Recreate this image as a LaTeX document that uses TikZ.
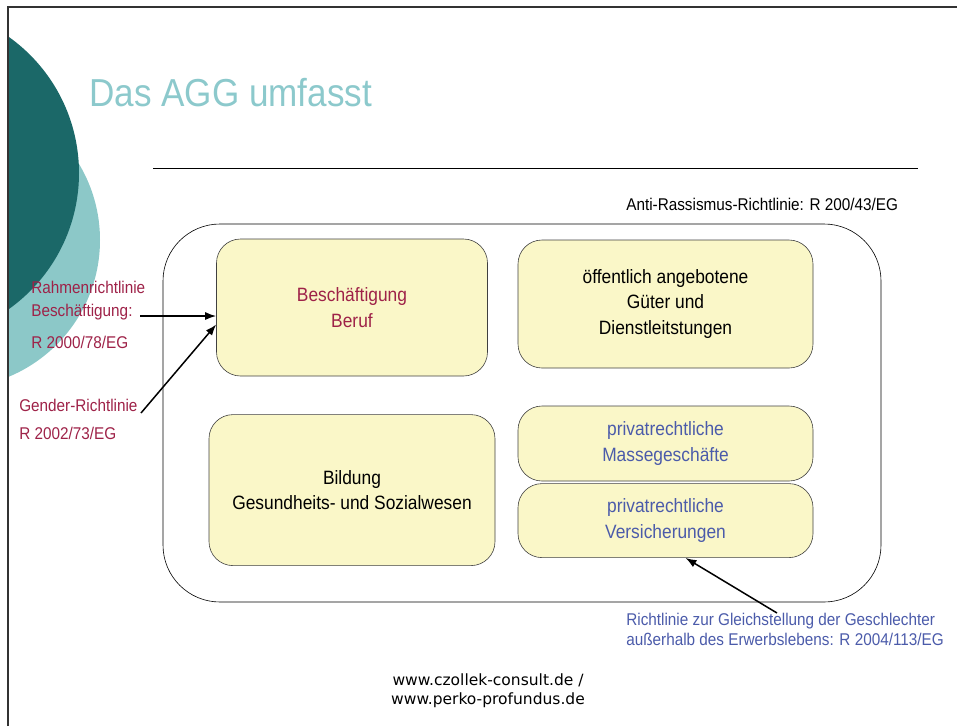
\documentclass[tikz,border=0pt]{standalone}
\usepackage{fontspec}
\setmainfont{Liberation Sans}[FakeStretch=0.9]
\newfontfamily\webfont{DejaVu Sans}
\usetikzlibrary{arrows.meta,positioning}

\definecolor{tealdunkel}{HTML}{1B6868}
\definecolor{tealhell}{HTML}{8CC8C8}
\definecolor{titeltuerkis}{HTML}{8CC9CC}
\definecolor{rahmenrot}{HTML}{9E2248}
\definecolor{richtblau}{HTML}{4B5BAA}
\definecolor{boxgelb}{HTML}{FAF7C8}

\begin{document}
\begin{tikzpicture}[x=1pt,y=-1pt,>={Latex[length=11pt,width=8pt]},semithick]
	\tikzstyle{feld}=[draw=black!75,fill=boxgelb,rounded corners=24pt,align=center,
	                  inner sep=0pt,font=\fontsize{19.3}{25.5}\selectfont]
	\tikzstyle{notiz}=[inner sep=0pt,align=left,font=\fontsize{17}{20}\selectfont]
	\tikzstyle{pfeil}=[->,line width=1.5pt]

	\useasboundingbox (0,0) rectangle (957,726);

	% Kreise links oben
	\begin{scope}
		\clip (8,7) rectangle (957,726);
		\fill[tealhell] (-48,240) circle (148pt);
		\fill[tealdunkel] (-88,173) circle (167pt);
	\end{scope}
	\draw[line width=2pt,black!80] (8,726) -- (8,7) -- (957,7);

	\node[anchor=base west,inner sep=0pt,text=titeltuerkis,font=\fontsize{39}{40}\selectfont]
		(titel) at (89,106) {Das AGG umfasst};
	\draw[line width=1pt] (153,168) -- (918,168);

	\node[draw,rounded corners=57pt,minimum width=718pt,minimum height=378pt] (agg) at (522,413) {};

	\node[feld,minimum width=271pt,minimum height=137pt,text=rahmenrot] (besch) at (352,307.5)
		{Beschäftigung\\Beruf};
	\node[feld,minimum width=295pt,minimum height=128pt] (gueter) at (665.5,304)
		{öffentlich angebotene\\Güter und\\Dienstleitstungen};
	\node[feld,minimum width=286pt,minimum height=151pt] (bildung) [below=38pt of besch]
		{Bildung\\Gesundheits- und Sozialwesen};
	\node[feld,minimum width=295pt,minimum height=75pt,text=richtblau] (masse) at (665.5,443.5)
		{privatrechtliche\\Massegeschäfte};
	\node[feld,minimum width=295pt,minimum height=74pt,text=richtblau] (vers) [below=2pt of masse]
		{privatrechtliche\\Versicherungen};

	\node[notiz,anchor=base west] (antiras) at (626,210) {Anti-Rassismus-Richtlinie: R 200/43/EG};
	\node[notiz,anchor=north west,text=rahmenrot,font=\fontsize{17}{23}\selectfont] (rahmen) at (31,280.5)
		{Rahmenrichtlinie\\Beschäftigung:\\[9pt]R 2000/78/EG};
	\node[notiz,anchor=north west,text=rahmenrot,font=\fontsize{17}{28}\selectfont] (gender) at (19,398.5)
		{Gender-Richtlinie\\R 2002/73/EG};
	\node[notiz,anchor=north west,text=richtblau] (gleich) at (626,612.5)
		{Richtlinie zur Gleichstellung der Geschlechter\\außerhalb des Erwerbslebens: R 2004/113/EG};

	\coordinate (rrEnde) at (140,316);
	\coordinate (grEnde) at (141,413);
	\coordinate (glEnde) at (777,613);
	\draw[pfeil] (rrEnde) -- (rrEnde -| besch.west);
	\draw[pfeil] (grEnde) -- ([yshift=-17pt]besch.west);
	\draw[pfeil] (glEnde) -- ([xshift=20pt]vers.south);

	\node[anchor=north,align=center,inner sep=0pt,font=\webfont\fontsize{15.5}{19}\selectfont]
		(web) at (488,673) {www.czollek-consult.de /\\www.perko-profundus.de};
\end{tikzpicture}
\end{document}
